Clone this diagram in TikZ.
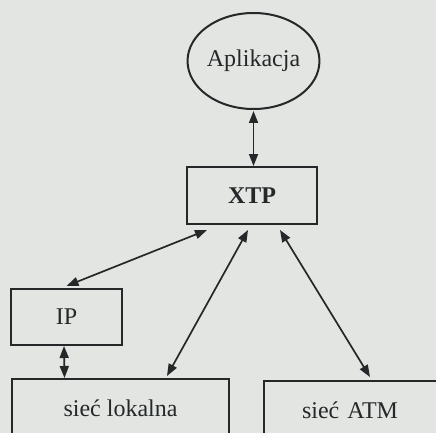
\documentclass[tikz,border=0pt]{standalone}
\usepackage{fontspec}
\setmainfont{Liberation Serif}
\usetikzlibrary{shapes.geometric,arrows.meta}
\definecolor{bgc}{RGB}{226,229,226}
\definecolor{ink}{RGB}{36,40,40}
\begin{document}
\begin{tikzpicture}[x=1pt,y=-1pt,
  lbl/.style={font=\fontsize{24}{28}\selectfont, text=ink},
  boxn/.style={lbl, draw=ink, line width=2pt, inner sep=0pt},
  arr/.style={draw=ink, line width=1.7pt, {Triangle[length=12pt,width=9pt]}-{Triangle[length=12pt,width=9pt]}}]
\useasboundingbox (0,0) rectangle (436,433);
\clip (0,0) rectangle (436,433);
\fill[bgc] (0,0) rectangle (436,433);
\node[lbl, ellipse, draw=ink, line width=2pt, minimum width=125pt, minimum height=96pt, inner sep=0pt] (app) at (253.5,61) {Aplikacja};
\node[boxn, minimum width=130pt, minimum height=57pt] (xtp) at (252,195.5) {\bfseries XTP};
\node[boxn, minimum width=111pt, minimum height=56pt] (ip) at (66.5,317) {IP};
\node[boxn, minimum width=217pt, minimum height=58pt] (lok) at (120.5,408) {sieć lokalna};
\node[boxn, minimum width=215pt, minimum height=58pt, text width=215pt, align=left] (atm) at (371.5,410) {\hspace*{38pt}sieć ATM};
\draw[arr] ([yshift=-1pt]app.south) -- ([xshift=1.5pt]xtp.north);
\draw[arr] ([xshift=-45pt,yshift=-5pt]xtp.south) -- ([yshift=2pt]ip.north);
\draw[arr] ([xshift=-4pt,yshift=-5pt]xtp.south) -- ([xshift=46.5pt,yshift=2pt]lok.north);
\draw[arr] ([xshift=28pt,yshift=-5pt]xtp.south) -- ([xshift=-1.5pt,yshift=3pt]atm.north);
\draw[arr] ([xshift=-2.5pt]ip.south) -- ([xshift=-56pt]lok.north);
\end{tikzpicture}
\end{document}
